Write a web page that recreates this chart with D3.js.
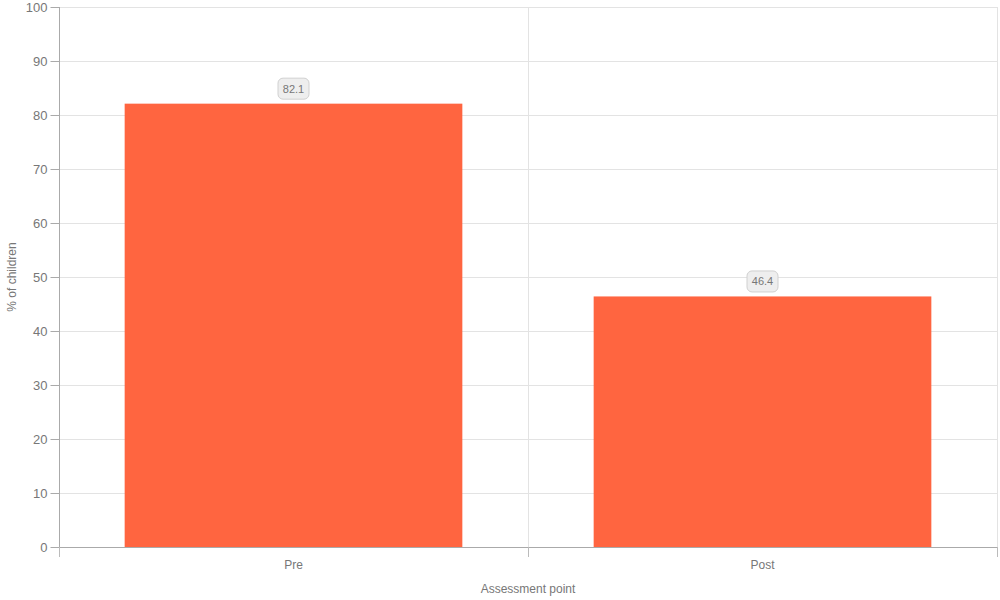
<!DOCTYPE html>
<html><head><meta charset="utf-8">
<script src="https://cdn.jsdelivr.net/npm/d3@7"></script>
<style>body{margin:0;background:#fff}svg{display:block;font-family:"Liberation Sans",Arial,sans-serif}</style>
</head><body><svg id="c" width="1000" height="600"></svg>
<script>
const categories = ["Pre", "Post"];
const values = [82.1, 46.4];
const yTicks = [0,10,20,30,40,50,60,70,80,90,100];
const xTitle = "Assessment point";
const yTitle = "% of children";

const svg = d3.select("#c");
const m = {l:59, r:3, t:7, b:53};
const W = 1000, H = 600;
const x = d3.scaleBand().domain(categories).range([m.l, W-m.r]).paddingInner(0.28).paddingOuter(0.14);
const xb = d3.scaleBand().domain(categories).range([m.l, W-m.r]);
const y = d3.scaleLinear().domain([0,100]).range([H-m.b, m.t]);

// grid
svg.append("g").selectAll("line").data(yTicks).join("line")
  .attr("x1", m.l).attr("x2", W-m.r).attr("y1", d=>y(d)+0.5).attr("y2", d=>y(d)+0.5)
  .attr("stroke", "#e3e3e3");
svg.append("g").selectAll("line").data(categories.slice(1).concat(["__end"])).join("line")
  .attr("x1", (d,i)=> i < categories.length-1 ? Math.round(xb(d))+0.5 : W-m.r+0.5)
  .attr("x2", (d,i)=> i < categories.length-1 ? Math.round(xb(d))+0.5 : W-m.r+0.5)
  .attr("y1", m.t).attr("y2", H-m.b+10).attr("stroke", "#e3e3e3");

// bars
svg.append("g").selectAll("rect").data(values).join("rect")
  .attr("x", (d,i)=>x(categories[i])).attr("width", x.bandwidth())
  .attr("y", d=>y(d)).attr("height", d=>y(0)-y(d)).attr("fill", "#ff6540");

// y axis
const ya = svg.append("g").attr("transform", `translate(${m.l+0.5},0)`)
  .call(d3.axisLeft(y).tickValues(yTicks).tickSize(9).tickPadding(3));
ya.select(".domain").attr("stroke", "#aaa").attr("d", `M0,${m.t}V${H-m.b+10}`);
ya.selectAll(".tick line").attr("stroke", "#aaa");
ya.selectAll(".tick text").attr("fill", "#777").attr("font-size", 13).attr("font-family", "Liberation Sans, Arial, sans-serif");

// x axis
const xa = svg.append("g").attr("transform", `translate(0,${H-m.b+0.5})`)
  .call(d3.axisBottom(xb).tickSize(0).tickPadding(13));
xa.select(".domain").attr("stroke", "#aaa").attr("d", `M${m.l},0H${W-m.r}`);
xa.selectAll(".tick text").attr("fill", "#777").attr("font-size", 12).attr("font-family", "Liberation Sans, Arial, sans-serif");
// category boundary ticks
const bounds = categories.map(c=>xb(c)).concat([W-m.r]);
svg.append("g").selectAll("line").data(bounds).join("line")
  .attr("x1", d=>Math.round(d)+0.5).attr("x2", d=>Math.round(d)+0.5)
  .attr("y1", H-m.b).attr("y2", H-m.b+10).attr("stroke", "#bbb");

// titles
svg.append("text").attr("x", (m.l+W-m.r)/2).attr("y", 593).attr("text-anchor","middle")
  .attr("fill","#777").attr("font-size",12).text(xTitle);
svg.append("text").attr("transform", `translate(16,${(m.t+H-m.b)/2}) rotate(-90)`).attr("text-anchor","middle")
  .attr("fill","#777").attr("font-size",12).text(yTitle);

// value labels
const lg = svg.append("g").selectAll("g").data(values).join("g")
  .attr("transform", (d,i)=>`translate(${x(categories[i])+x.bandwidth()/2},${y(d)-15})`);
lg.append("rect").attr("x",-15.5).attr("y",-10.5).attr("width",31).attr("height",21).attr("rx",5)
  .attr("fill","#eeeeee").attr("stroke","#d0d0d0");
lg.append("text").attr("text-anchor","middle").attr("dy","0.35em").attr("font-size",11)
  .attr("fill","#777").text(d=>d.toFixed(1));
</script></body></html>
